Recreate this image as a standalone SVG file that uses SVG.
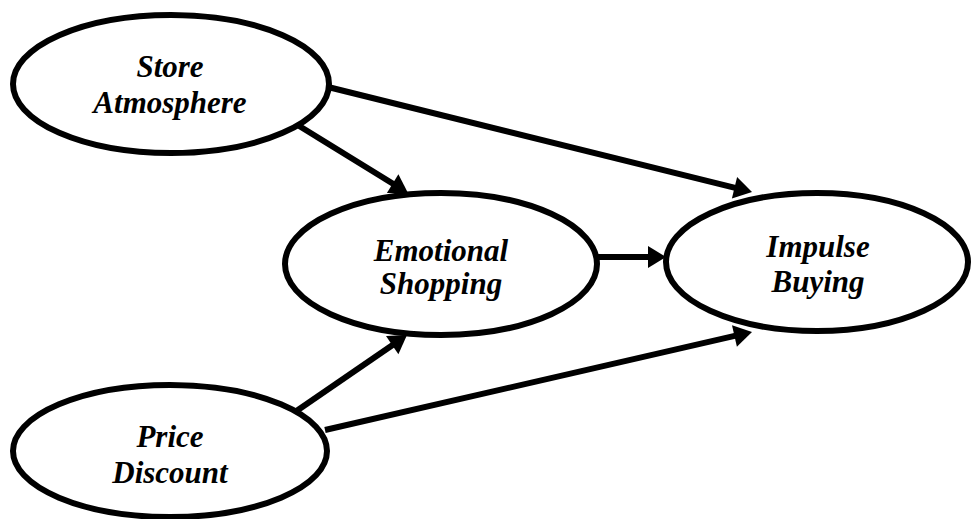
<svg xmlns="http://www.w3.org/2000/svg" width="971" height="519" viewBox="0 0 971 519">
<style>
.node ellipse{fill:#fff;stroke:#000;stroke-width:6}
.edges line{stroke:#000;stroke-width:6}
.edges polygon{fill:#000}
</style>
<rect width="971" height="519" fill="#fff"/>
<g class="edges" id="connectors">
<line x1="296" y1="124" x2="399.5" y2="187.8"/>
<polygon points="408,193 386.9,192.9 398.4,174.2"/>
<line x1="328" y1="87" x2="742.3" y2="189.6"/>
<polygon points="752,192 731.9,198.4 737.1,177.0"/>
<line x1="598" y1="257" x2="656" y2="257"/>
<polygon points="666,257 648,246 648,268"/>
<line x1="295" y1="412" x2="398.8" y2="340.7"/>
<polygon points="407,335 398.4,354.3 386.0,336.1"/>
<line x1="325" y1="430" x2="742.3" y2="334.2"/>
<polygon points="752,332 736.9,346.7 732.0,325.2"/>
</g>
<g class="node" id="store">
<ellipse cx="171" cy="84" rx="158" ry="69"/>
<text x="170" y="77" font-family="Liberation Serif" font-weight="bold" font-style="italic" font-size="31" text-anchor="middle">Store</text>
<text x="170" y="113" font-family="Liberation Serif" font-weight="bold" font-style="italic" font-size="31" text-anchor="middle">Atmosphere</text>
</g>
<g class="node" id="emotional">
<ellipse cx="441" cy="264" rx="156" ry="71"/>
<text x="441" y="261" font-family="Liberation Serif" font-weight="bold" font-style="italic" font-size="31" text-anchor="middle">Emotional</text>
<text x="441" y="294" font-family="Liberation Serif" font-weight="bold" font-style="italic" font-size="31" text-anchor="middle">Shopping</text>
</g>
<g class="node" id="impulse">
<ellipse cx="817" cy="262" rx="151" ry="69"/>
<text x="818" y="257" font-family="Liberation Serif" font-weight="bold" font-style="italic" font-size="31" text-anchor="middle">Impulse</text>
<text x="818" y="292" font-family="Liberation Serif" font-weight="bold" font-style="italic" font-size="31" text-anchor="middle">Buying</text>
</g>
<g class="node" id="price">
<ellipse cx="170" cy="451" rx="157" ry="66"/>
<text x="170" y="447" font-family="Liberation Serif" font-weight="bold" font-style="italic" font-size="31" text-anchor="middle">Price</text>
<text x="170" y="483" font-family="Liberation Serif" font-weight="bold" font-style="italic" font-size="31" text-anchor="middle">Discount</text>
</g>
</svg>
